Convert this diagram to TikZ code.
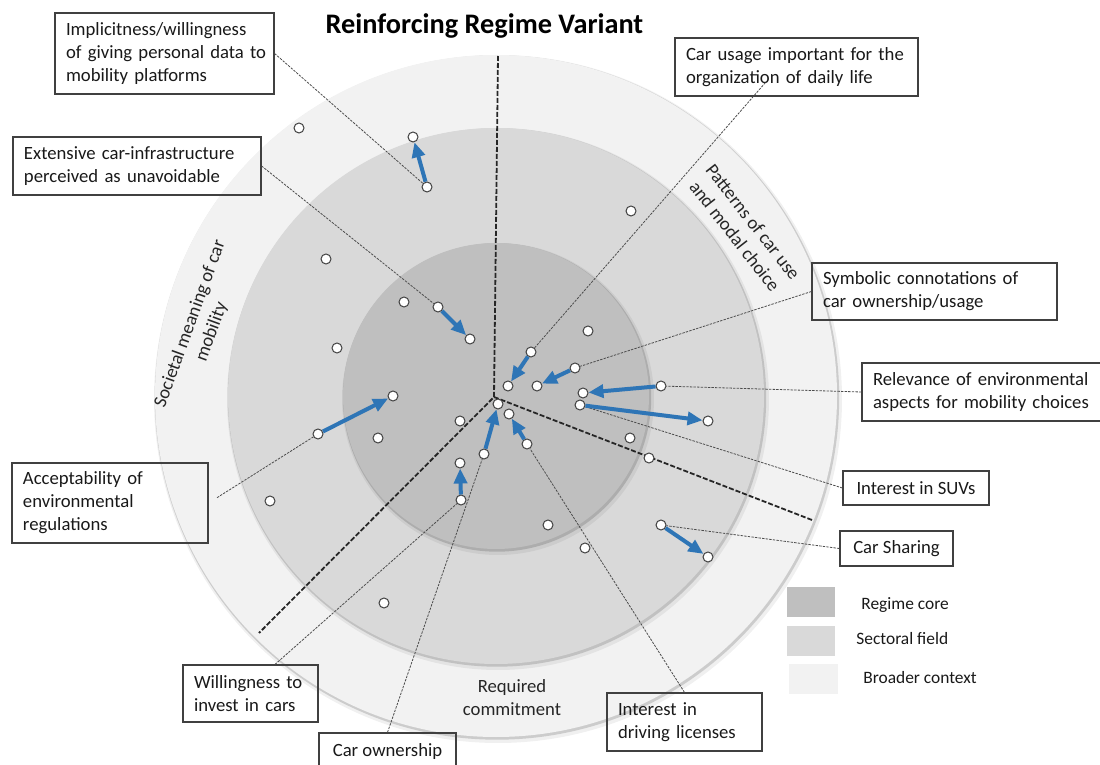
\documentclass[tikz,border=0pt]{standalone}
\usepackage{fontspec}
\setmainfont{Carlito}
\usetikzlibrary{calc,arrows.meta}

\definecolor{corefill}{RGB}{191,191,191}
\definecolor{fieldfill}{RGB}{217,217,217}
\definecolor{contextfill}{RGB}{242,242,242}
\definecolor{trendblue}{RGB}{46,117,182}
\newcommand{\boxfont}{\fontsize{9.35}{11.5}\selectfont}
\newcommand{\keyfont}{\fontsize{8.7}{10}\selectfont}

\begin{document}
\begin{tikzpicture}[x=0.5pt,y=-0.5pt,
  box/.style={draw=black!75,line width=0.6pt,inner xsep=5.5pt,inner ysep=2pt,align=left,font=\boxfont,text=black!90},
  dot/.style={circle,draw=black!75,fill=white,line width=0.5pt,inner sep=0pt,minimum size=5pt},
  lead/.style={draw=black!70,line width=0.4pt,dash pattern=on 1.2pt off 0.6pt},
  trend/.style={draw=trendblue,line width=2pt,-{Triangle[length=7.5pt,width=6.5pt]}},
  divider/.style={draw=black!85,line width=0.9pt,dash pattern=on 2.5pt off 1pt},
  sector/.style={align=center,font=\boxfont,text=black!85},
  swatch/.style={minimum width=24pt,minimum height=15pt,inner sep=0pt},
  keytext/.style={anchor=west,inner sep=0pt,font=\keyfont,text=black!90}]
\useasboundingbox (0,0) rectangle (1100,765);

% rings: broader context, sectoral field, regime core
\coordinate (mid) at (496,396);
\foreach \r/\col in {170.5pt/contextfill,134pt/fieldfill,76.5pt/corefill}{
  \fill[black,opacity=0.06] ($(mid)+(2,3)$) circle[radius=\r+1.5pt];
  \fill[black,opacity=0.15] ($(mid)+(1,1.5)$) circle[radius=\r+0.6pt];
  \fill[\col] (mid) circle[radius=\r];
}

% dashed borders between the three dimensions
\coordinate (hub) at (494,397);
\coordinate (cutN) at (498,56);
\coordinate (cutSW) at (259,633);
\coordinate (cutSE) at (812,520);
\draw[divider] (cutN) -- (hub) -- (cutSW);
\draw[divider] (hub) -- (cutSE);

% items
\foreach \nm/\px/\py in {u1/299/128,u2/413/137,u3/427/187,u4/326/259,u5/404/302,
    u6/438/307,u7/470/339,u8/337/348,u9/393/396,u10/318/434,u11/378/438,
    u12/460/421,u13/270/501,u14/384/603,
    r1/631/211,r2/588/331,r3/531/352,r4/508/386,r5/575/368,r6/537/386,
    r7/661/386,r8/583/393,r9/580/405,r10/708/421,r11/630/438,r12/649/458,
    r13/661/525,r14/708/557,
    b1/498/404,b2/509/414,b3/484/454,b4/527/444,b5/460/463,b6/461/500,
    b7/548/525,b8/585/548}
  \node[dot] (\nm) at (\px,\py) {};

% title
\node[font=\bfseries\fontsize{14.15}{17}\selectfont] (title) at (484.5,26) {Reinforcing Regime Variant};

% labelled items
\node[box,text width=98.5pt,minimum height=40.5pt] (impl) at (164.5,53.5)
  {Implicitness/willingness\\\mbox{of giving personal data to}\\mobility platforms};
\node[box,text width=113pt,minimum height=29pt] (infra) at (137,166)
  {Extensive car-infrastructure\\perceived as unavoidable};
\node[box,text width=110.5pt,minimum height=29pt] (usage) at (796.5,67)
  {Car usage important for the\\organization of daily life};
\node[box,text width=111.5pt,minimum height=28.5pt] (symb) at (934.5,291.5)
  {Symbolic connotations of\\car ownership/usage};
\node[box,text width=109pt,minimum height=29pt] (relev) at (982,392)
  {Relevance of environmental\\aspects for mobility choices};
\node[box,minimum width=73pt,minimum height=17pt,align=center] (suv) at (916,488) {Interest in SUVs};
\node[box,minimum width=56.5pt,minimum height=17.5pt,align=center] (share) at (896.5,548.5) {Car Sharing};
\node[box,text width=87pt,minimum height=40pt] (accept) at (110,503)
  {Acceptability of\\environmental\\regulations};
\node[box,text width=56.5pt,minimum height=28.5pt] (invest) at (250.5,693.5)
  {Willingness to\\invest in cars};
\node[box,minimum width=68.5pt,minimum height=18.5pt,align=center] (owner) at (387.5,751.5) {Car ownership};
\node[box,text width=66.5pt,minimum height=29pt] (licen) at (684.5,722)
  {Interest in\\driving licenses};

% leader lines
\coordinate (usagetip) at ($(usage.south west)+(91,-14)$);
\draw[lead] (impl.east) -- (u3);
\draw[lead] (infra.east) -- (u6);
\draw[lead] (usagetip) -- (r3);
\draw[lead] (symb.west) -- (r5);
\draw[lead] (relev.west) -- (r7);
\draw[lead] (suv.west) -- (r9);
\draw[lead] (share.west) -- (r13);
\draw[lead,shorten <=5pt] (accept.east) -- (u10);
\draw[lead] ($(invest.north west)!0.68!(invest.north east)$) -- (b6);
\draw[lead] (owner.north) -- (b3);
\draw[lead] (licen.north) -- (b4);

% shifts
\foreach \s/\t in {u3/u2,u6/u7,u10/u9,r3/r4,r5/r6,r7/r8,r9/r10,r13/r14,b3/b1,b4/b2,b6/b5}
  \draw[trend] (\s) -- (\t);

% dimensions
\node[sector,rotate=70] (soc) at (201,328) {Societal meaning of car\\mobility};
\node[sector,rotate=-52] (pat) at (744,229) {Patterns of car use\\and modal choice};
\node[sector] (req) at (512,698) {Required\\commitment};

% key
\node[swatch,fill=corefill] (keycore) at (811,602) {};
\node[swatch,fill=fieldfill] (keyfield) at (811,640.5) {};
\node[swatch,fill=contextfill,minimum width=24.5pt] (keycontext) at (813.5,678.5) {};
\node[keytext] (labcore) at (861,605) {Regime core};
\node[keytext] (labfield) at (856,639) {Sectoral field};
\node[keytext] (labcontext) at (863,678) {Broader context};

\end{tikzpicture}
\end{document}
